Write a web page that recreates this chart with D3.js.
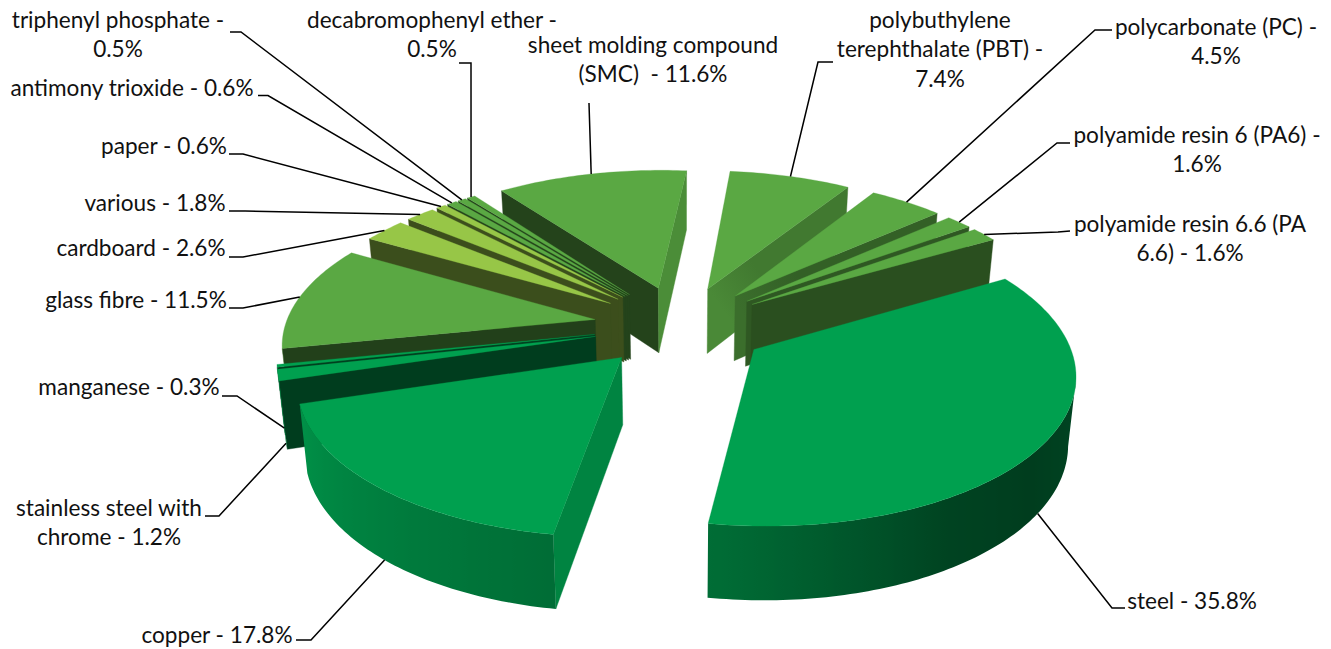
<!DOCTYPE html>
<html><head><meta charset="utf-8">
<script src="https://cdn.jsdelivr.net/npm/d3@7"></script>
<style>html,body{margin:0;background:#fff}svg{display:block}text{font-family:Lato,"Open Sans",sans-serif;font-size:22.6px;fill:#111}</style>
</head><body><svg id="c" width="1331" height="649"></svg>
<script>
// ---- data ----
const materials = ["steel","copper","stainless steel with chrome","manganese","glass fibre","cardboard","various","paper","antimony trioxide","triphenyl phosphate","decabromophenyl ether","sheet molding compound (SMC)","polybuthylene terephthalate (PBT)","polycarbonate (PC)","polyamide resin 6 (PA6)","polyamide resin 6.6 (PA 6.6)"];
const shares = [35.8,17.8,1.2,0.3,11.5,2.6,1.8,0.6,0.6,0.5,0.5,11.6,7.4,4.5,1.6,1.6];
const labelLines = [
 ["steel - 35.8%"],["copper - 17.8%"],["stainless steel with","chrome - 1.2%"],["manganese - 0.3%"],["glass fibre - 11.5%"],
 ["cardboard - 2.6%"],["various - 1.8%"],["paper - 0.6%"],["antimony trioxide - 0.6%"],["triphenyl phosphate -","0.5%"],
 ["decabromophenyl ether -","0.5%"],["sheet molding compound","(SMC)  - 11.6%"],["polybuthylene","terephthalate (PBT) -","7.4%"],
 ["polycarbonate (PC) -","4.5%"],["polyamide resin 6 (PA6) -","1.6%"],["polyamide resin 6.6 (PA","6.6) - 1.6%"]];
const topColors = ["#00A04F","#00A04F","#00A04F","#00A04F","#5AA843","#97C647","#97C647","#97C647","#5AA843","#5AA843","#5AA843","#5AA843","#5AA843","#5AA843","#5AA843","#5AA843"];

// ---- layout of the labels: text centre x, first line centre y, elbow points, share of wall height at the leader's tip ----
const labelLayout = [
 {x:1192,y:602,el:[[1125,608],[1112,608]],tip:1},
 {x:217,y:636,el:[[296,640],[311,640]],tip:1},
 {x:109,y:509,el:[[205,516],[219,516]],tip:1},
 {x:129,y:388,el:[[222,396],[237,396]],tip:.92},
 {x:136,y:301,el:[[229,308],[243,308]],tip:0},
 {x:141,y:249,el:[[229,257],[243,257]],tip:0},
 {x:155,y:204,el:[[229,211],[245,211]],tip:0},
 {x:164,y:147,el:[[229,154],[243,154]],tip:0},
 {x:132,y:89,el:[[258,95.5],[268,95.5]],tip:0},
 {x:118,y:21,el:[[230,32],[241,32]],tip:0},
 {x:432,y:21,el:[[459,63],[471,63]],tip:0},
 {x:653,y:46,el:[[589,103]],tip:0},
 {x:940,y:21,el:[[833,62],[818,62]],tip:0},
 {x:1216,y:28,el:[[1112,30],[1095,30]],tip:0},
 {x:1197,y:136,el:[[1070,143],[1057,143]],tip:0},
 {x:1190,y:225,el:[[1070,231],[1058,232]],tip:0}];

// ---- 3-D pie geometry ----
const cx=680.5, cy=326, R=310, explode=87, foreshorten=.466, camera=2200, wall=66, wallPersp=.656, wallConverge=.02;
const startDeg=60;
const svg=d3.select("#c");
const defs=svg.append("defs");
const dir=a=>[Math.sin(a),-Math.cos(a)];
const scale=z=>1/(1-z/camera);
function project([x,z],h=0){const s=scale(z);return [cx+x*s*(1-wallConverge*h), cy+foreshorten*z*s+h*wall*Math.pow(s,wallPersp)];}
const poly=d3.line();
function shade(hex,b){const c=d3.rgb(hex);return d3.rgb(c.r*b,c.g*b,c.b*b).formatHex();}
const rimShade=d3.scaleLinear().domain([90,130,150,186,218,250,280]).range([.46,.38,.42,.67,.78,.9,.9]).clamp(true);
const faceShade=d3.scaleLinear().domain([95,122,133,150,160,235]).range([.84,.72,.62,.47,.38,.4]).clamp(true);
const norm=d=>((d%360)+360)%360;
let gid=0;

const pie=d3.pie().sort(null).startAngle(startDeg*Math.PI/180).endAngle(startDeg*Math.PI/180+2*Math.PI);
const arcs=pie(shares).map((a,i)=>{
  const mid=(a.startAngle+a.endAngle)/2, m=dir(mid);
  return {i,a0:a.startAngle,a1:a.endAngle,mid,apex:[explode*m[0],explode*m[1]],color:topColors[i]};
});
const rimAt=(d,a)=>{const v=dir(a);return [d.apex[0]+R*v[0],d.apex[1]+R*v[1]];};
const faces=(n,p)=>n[0]*(0-p[0])+n[1]*(camera-p[1])>0;
const order=arcs.slice().sort((p,q)=>dir(p.mid)[1]-dir(q.mid)[1]);

function gradient(x1,y1,x2,y2,stops){
  const id="g"+(gid++);
  const lg=defs.append("linearGradient").attr("id",id).attr("gradientUnits","userSpaceOnUse")
    .attr("x1",x1).attr("y1",y1).attr("x2",x2).attr("y2",y2);
  stops.forEach(s=>lg.append("stop").attr("offset",s[0]).attr("stop-color",s[1]));
  return `url(#${id})`;
}

const chart=svg.append("g");
order.forEach(d=>{
  const g=chart.append("g").attr("class","slice");
  const face=(a,normA)=>{
    const n=dir(normA), r=rimAt(d,a);
    if(!faces(n,d.apex))return;
    const nd=norm(normA*180/Math.PI), b=faceShade(nd), col=shade(d.color,b);
    const A=project(d.apex),B=project(r);
    const fill=(nd>110&&nd<140)?gradient(A[0],A[1],B[0],B[1],[[0,shade(d.color,b*1.14)],[.3,col],[1,col]]):col;
    g.append("path").attr("d",poly([A,B,project(r,1),project(d.apex,1)])+"Z").attr("fill",fill).attr("stroke",fill).attr("stroke-width",.4);
  };
  face(d.a0,d.a0-Math.PI/2);
  face(d.a1,d.a1+Math.PI/2);
  // outer wall: one path, shaded with a gradient that follows the normal
  const steps=Math.max(2,Math.ceil((d.a1-d.a0)/(Math.PI/180)));
  const as=d3.range(steps+1).map(k=>d.a0+(d.a1-d.a0)*k/steps);
  const vis=as.filter(a=>faces(dir(a),rimAt(d,a)));
  if(vis.length>1){
    const topE=vis.map(a=>project(rimAt(d,a))), botE=vis.map(a=>project(rimAt(d,a),1)).reverse();
    const x0=topE[0][0], x1=topE[topE.length-1][0];
    const stops=vis.map((a,k)=>[Math.max(0,Math.min(1,(topE[k][0]-x0)/((x1-x0)||1))),shade(d.color,rimShade(norm(a*180/Math.PI)))]);
    g.append("path").attr("d",poly([...topE,...botE])+"Z").attr("fill",gradient(x0,0,x1,0,stops));
  }
  const top=[project(d.apex),...as.map(a=>project(rimAt(d,a)))];
  g.append("path").attr("d",poly(top)+"Z").attr("fill",d.color).attr("stroke",d.color).attr("stroke-width",.3);
});

// ---- leaders and labels ----
const lh=29.5;
labelLayout.forEach((l,i)=>{
  const d=arcs[i], tip=project(rimAt(d,d.mid),l.tip);
  svg.append("path").attr("d",poly([...l.el,tip])).attr("fill","none").attr("stroke","#000").attr("stroke-width",1.5);
  const t=svg.append("text").attr("text-anchor","middle");
  labelLines[i].forEach((s,k)=>t.append("tspan").attr("x",l.x).attr("y",l.y+6.5+k*lh).style("white-space","pre").text(s));
});
</script></body></html>
